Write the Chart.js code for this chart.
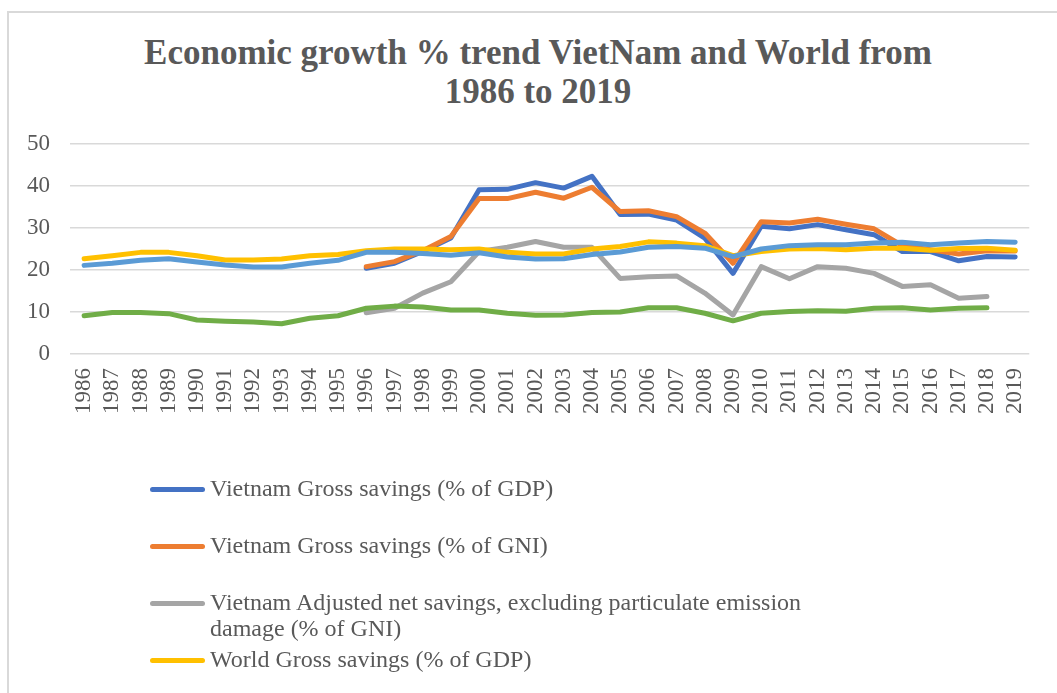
<!DOCTYPE html>
<html>
<head>
<meta charset="utf-8">
<script src="https://cdn.jsdelivr.net/npm/chart.js@4.4.1/dist/chart.umd.min.js"></script>
<style>
  html, body { margin: 0; padding: 0; background: #fff; }
  body { width: 1057px; height: 693px; overflow: hidden; position: relative; font-family: "Liberation Serif", "DejaVu Serif", serif; }
  #frame { position: absolute; left: 7px; top: 11px; width: 1200px; height: 900px; border: 2px solid #d9d9d9; box-sizing: border-box; }
  #title { position: absolute; left: 0; top: 33px; width: 1076px; text-align: center; font-weight: bold; font-size: 35px; line-height: 39px; color: #595959; }
  #chart { position: absolute; left: 0; top: 0; }
  .lg-item { position: absolute; left: 0; width: 1057px; }
  .lg-line { position: absolute; left: 150px; width: 55px; height: 5px; border-radius: 3px; }
  .lg-text { position: absolute; left: 210px; width: 610px; font-size: 24px; line-height: 26px; color: #595959; }
</style>
</head>
<body>
<div id="frame"></div>
<div id="title">Economic growth % trend VietNam and World from<br>1986 to 2019</div>
<canvas id="chart" width="1057" height="693"></canvas>
<div id="legend"></div>
<script>
// Years on the category axis
const years = ['1986','1987','1988','1989','1990','1991','1992','1993','1994','1995',
  '1996','1997','1998','1999','2000','2001','2002','2003','2004','2005',
  '2006','2007','2008','2009','2010','2011','2012','2013','2014','2015',
  '2016','2017','2018','2019'];

const yTicks = [0, 10, 20, 30, 40, 50];

// Vietnam Gross savings (% of GDP)
const vnSavingsGDP = [null,null,null,null,null,null,null,null,null,null,
  20.4,21.6,24.4,27.6,39.1,39.2,40.8,39.5,42.3,33.2,
  33.3,31.9,27.6,19.2,30.4,29.8,30.8,29.6,28.4,24.4,
  24.4,22.2,23.2,23.1];

// Vietnam Gross savings (% of GNI)
const vnSavingsGNI = [null,null,null,null,null,null,null,null,null,null,
  20.8,22.0,24.6,28.0,37.0,37.0,38.5,37.1,39.7,33.9,
  34.1,32.7,28.8,21.6,31.5,31.2,32.1,30.9,29.8,25.8,
  24.8,23.8,24.6,24.5];

// Vietnam Adjusted net savings (% of GNI)
const vnAdjustedNet = [null,null,null,null,null,null,null,null,null,null,
  9.8,10.9,14.5,17.2,24.4,25.4,26.8,25.4,25.4,18.0,
  18.4,18.6,14.5,9.3,20.8,17.9,20.8,20.4,19.2,16.1,
  16.5,13.3,13.7,null];

// World Gross savings (% of GDP)
const worldSavingsGDP = [22.7,23.4,24.2,24.2,23.4,22.4,22.4,22.6,23.4,23.7,
  24.6,25.0,25.0,24.8,25.0,24.2,23.8,23.8,25.0,25.6,
  26.7,26.4,25.8,23.4,24.4,25.0,25.1,24.8,25.2,25.2,
  24.7,25.1,25.2,24.7];

// World Gross savings (% of GNI)
const worldSavingsGNI = [21.1,21.6,22.3,22.7,21.9,21.2,20.7,20.7,21.6,22.3,
  24.2,24.2,23.9,23.5,24.1,23.1,22.6,22.7,23.7,24.3,
  25.4,25.6,25.2,23.2,25.0,25.8,26.0,26.0,26.4,26.6,
  26.0,26.4,26.8,26.6];

// World Adjusted net savings (% of GNI)
const worldAdjustedNet = [9.1,9.9,9.9,9.6,8.1,7.8,7.6,7.2,8.5,9.1,
  10.9,11.4,11.2,10.5,10.5,9.7,9.2,9.3,9.9,10.0,
  11.0,11.0,9.7,7.9,9.7,10.1,10.3,10.2,10.9,11.0,
  10.5,10.9,11.0,null];

const seriesNames = [
  'Vietnam Gross savings (% of GDP)',
  'Vietnam Gross savings (% of GNI)',
  'Vietnam Adjusted net savings, excluding particulate emission damage (% of GNI)',
  'World Gross savings (% of GDP)',
  'World Gross savings (% of GNI)',
  'World Adjusted net savings, excluding particulate emission damage (% of GNI)'
];
const seriesColors = ['#4472C4', '#ED7D31', '#A5A5A5', '#FFC000', '#5B9BD5', '#70AD47'];
const seriesValues = [vnSavingsGDP, vnSavingsGNI, vnAdjustedNet, worldSavingsGDP, worldSavingsGNI, worldAdjustedNet];

const tickFont = { family: '"Liberation Serif", serif', size: 23 };

const datasets = seriesValues.map((vals, i) => ({
  label: seriesNames[i],
  data: vals,
  borderColor: seriesColors[i],
  backgroundColor: seriesColors[i],
  borderWidth: 5,
  pointRadius: 0,
  pointHoverRadius: 0,
  tension: 0,
  spanGaps: false,
  borderJoinStyle: 'round',
  borderCapStyle: 'round',
  // later series are painted over earlier ones
  order: seriesValues.length - i
}));

const chart = new Chart(document.getElementById('chart'), {
  type: 'line',
  data: { labels: years, datasets },
  options: {
    responsive: false,
    animation: false,
    devicePixelRatio: 1,
    layout: { padding: { left: 0, right: 17, top: 144, bottom: 269 } },
    plugins: {
      legend: { display: false },
      title: { display: false },
      tooltip: { enabled: false }
    },
    scales: {
      x: {
        type: 'category',
        offset: true,
        grid: { display: false, drawTicks: false },
        border: { display: false },
        ticks: {
          autoSkip: false,
          minRotation: 90,
          maxRotation: 90,
          padding: 14,
          color: '#595959',
          font: tickFont
        },
        afterFit: s => { s.height = 70; }
      },
      y: {
        min: yTicks[0],
        max: yTicks[yTicks.length - 1],
        afterBuildTicks: s => { s.ticks = yTicks.map(v => ({ value: v })); },
        grid: { color: '#d9d9d9', lineWidth: 1.5, drawTicks: false },
        border: { display: false },
        ticks: { padding: 20, color: '#595959', font: tickFont },
        afterFit: s => { s.width = 70; }
      }
    }
  }
});

// Legend: one slot per series, stacked downward
const legend = document.getElementById('legend');
chart.data.datasets.forEach((ds, i) => {
  const center = 489 + 57 * i;
  const item = document.createElement('div');
  item.className = 'lg-item';
  const line = document.createElement('div');
  line.className = 'lg-line';
  line.style.top = (center - 2.5) + 'px';
  line.style.background = ds.borderColor;
  const text = document.createElement('div');
  text.className = 'lg-text';
  text.style.top = (center - 14) + 'px';
  text.textContent = ds.label;
  item.appendChild(line);
  item.appendChild(text);
  legend.appendChild(item);
});
</script>
</body>
</html>
